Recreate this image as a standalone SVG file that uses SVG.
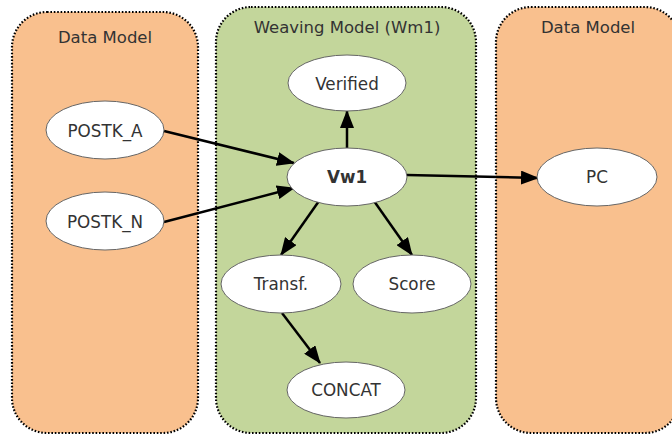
<svg xmlns="http://www.w3.org/2000/svg" width="672" height="434" viewBox="0 0 672 434">
  <defs>
    <style>
      .model { stroke: #000; stroke-width: 2.2; stroke-dasharray: 1.6 1.8; }
      .data { fill: #F9C08E; }
      .weave { fill: #C3D69B; }
      .title { font-family: "DejaVu Sans", Verdana, sans-serif; font-size: 16.5px; fill: #333; text-anchor: middle; }
      .node ellipse { fill: #fff; stroke: #666; stroke-width: 1; }
      .node text { font-family: "DejaVu Sans", Verdana, sans-serif; font-size: 16.8px; fill: #333; text-anchor: middle; }
      .edge { stroke: #000; stroke-width: 2.5; fill: none; marker-end: url(#arrow); }
    </style>
    <marker id="arrow" viewBox="0 0 18 14" refX="17" refY="7" markerWidth="18" markerHeight="14" markerUnits="userSpaceOnUse" orient="auto">
      <path d="M0,0 L18,7 L0,14 Z" fill="#000"/>
    </marker>
  </defs>

  <rect width="672" height="434" fill="#fff"/>

  <!-- containers -->
  <g id="data-model-left">
    <rect class="model data" x="12" y="12" width="186" height="421" rx="35" ry="35"/>
    <text class="title" x="105" y="43">Data Model</text>
  </g>
  <g id="weaving-model">
    <rect class="model weave" x="216" y="7" width="260" height="426" rx="35" ry="35"/>
    <text class="title" x="347" y="33">Weaving Model (Wm1)</text>
  </g>
  <g id="data-model-right">
    <rect class="model data" x="496" y="7" width="184" height="426" rx="35" ry="35"/>
    <text class="title" x="588" y="33">Data Model</text>
  </g>

  <!-- connectors -->
  <g id="connectors">
    <line class="edge" x1="164" y1="131" x2="294" y2="163"/>
    <line class="edge" x1="164" y1="222" x2="294" y2="188"/>
    <line class="edge" x1="347" y1="148" x2="347" y2="111"/>
    <line class="edge" x1="407" y1="175" x2="538" y2="178"/>
    <line class="edge" x1="319" y1="201" x2="281" y2="255"/>
    <line class="edge" x1="374" y1="201" x2="412" y2="255"/>
    <line class="edge" x1="282" y1="313" x2="320" y2="363"/>
  </g>

  <!-- nodes -->
  <g id="POSTK_A" class="node">
    <ellipse cx="105" cy="130" rx="59" ry="29"/>
    <text x="105" y="137">POSTK_A</text>
  </g>
  <g id="POSTK_N" class="node">
    <ellipse cx="105" cy="221" rx="59" ry="29"/>
    <text x="105" y="228">POSTK_N</text>
  </g>
  <g id="Verified" class="node">
    <ellipse cx="347" cy="83" rx="59" ry="28"/>
    <text x="347" y="90">Verified</text>
  </g>
  <g id="Vw1" class="node">
    <ellipse cx="347" cy="177" rx="60" ry="29"/>
    <text x="347" y="183" font-weight="bold">Vw1</text>
  </g>
  <g id="PC" class="node">
    <ellipse cx="597" cy="177" rx="60" ry="29"/>
    <text x="597" y="183">PC</text>
  </g>
  <g id="Transf" class="node">
    <ellipse cx="281" cy="284" rx="60" ry="29"/>
    <text x="281" y="290">Transf.</text>
  </g>
  <g id="Score" class="node">
    <ellipse cx="412" cy="284" rx="59" ry="29"/>
    <text x="412" y="290">Score</text>
  </g>
  <g id="CONCAT" class="node">
    <ellipse cx="346" cy="390" rx="59" ry="28"/>
    <text x="346" y="396">CONCAT</text>
  </g>
</svg>
